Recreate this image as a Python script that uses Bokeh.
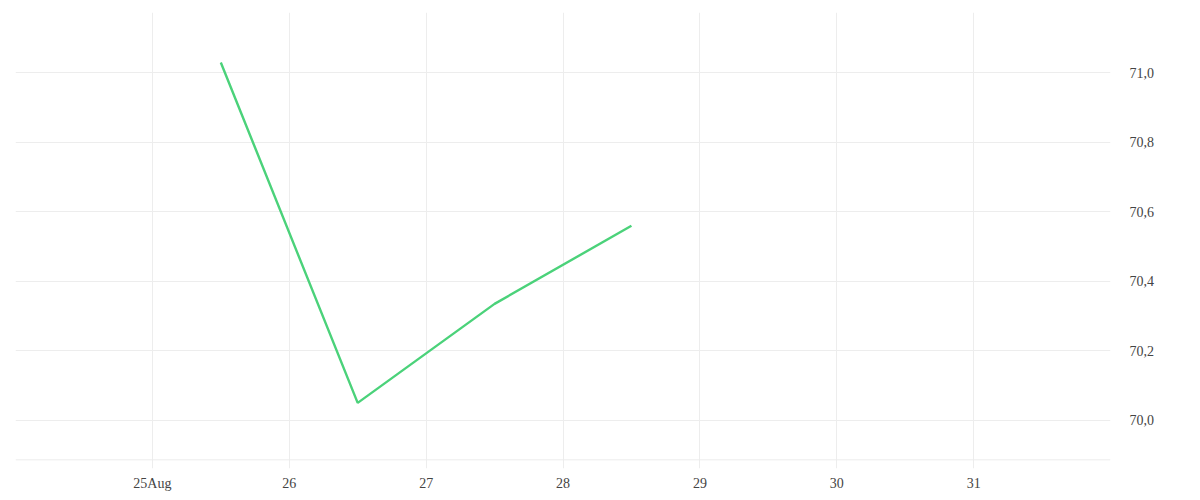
import pandas as pd
from bokeh.plotting import figure
from bokeh.models import Range1d, FixedTicker, Span
from bokeh.embed import file_html
from bokeh.resources import INLINE

# data (daily points at noon)
dates = ["2023-08-25 12:00", "2023-08-26 12:00", "2023-08-27 12:00", "2023-08-28 12:00"]
values = [71.03, 70.05, 70.335, 70.56]

x_ticks = ["2023-08-25", "2023-08-26", "2023-08-27", "2023-08-28",
           "2023-08-29", "2023-08-30", "2023-08-31"]
x_tick_labels = ["25Aug", "26", "27", "28", "29", "30", "31"]
y_ticks = [70.0, 70.2, 70.4, 70.6, 70.8, 71.0]
y_tick_labels = ["70,0", "70,2", "70,4", "70,6", "70,8", "71,0"]


def to_ms(s):
    return pd.Timestamp(s).value / 1e6


xs = [to_ms(d) for d in dates]
tick_ms = [to_ms(d) for d in x_ticks]
grid_ms = [to_ms("2023-08-24")] + tick_ms + [to_ms("2023-09-01")]

FONT = "Liberation Serif"
GRID = "#ededed"

p = figure(frame_width=1095, frame_height=456, output_backend="svg", toolbar_location=None,
           tools="", y_axis_location="right",
           x_range=Range1d(to_ms("2023-08-24"), to_ms("2023-09-01")),
           y_range=Range1d(69.861, 71.174),
           min_border_left=15, min_border_top=12, min_border_bottom=24, min_border_right=60)
p.outline_line_color = None
p.background_fill_color = "white"
p.border_fill_color = "white"

p.line(xs, values, line_color="#4bd27a", line_width=2.4)

# x axis
p.xaxis.ticker = FixedTicker(ticks=tick_ms)
p.xaxis.major_label_overrides = dict(zip(tick_ms, x_tick_labels))
p.xaxis.axis_line_color = None
p.xaxis.major_tick_line_color = None
p.xaxis.minor_tick_line_color = None
p.xaxis.major_label_standoff = 1
p.xgrid.ticker = FixedTicker(ticks=grid_ms)
p.xgrid.grid_line_color = GRID

# y axis on the right
p.yaxis.ticker = FixedTicker(ticks=y_ticks)
p.yaxis.major_label_overrides = dict(zip(y_ticks, y_tick_labels))
p.yaxis.axis_line_color = None
p.yaxis.major_tick_line_color = None
p.yaxis.minor_tick_line_color = None
p.yaxis.major_label_standoff = 13
p.ygrid.ticker = FixedTicker(ticks=y_ticks)
p.ygrid.grid_line_color = GRID

for ax in (p.xaxis, p.yaxis):
    ax.major_label_text_font = FONT
    ax.major_label_text_font_size = "14px"
    ax.major_label_text_color = "#444444"

# bottom baseline line
p.add_layout(Span(location=69.886, dimension="width", line_color=GRID, line_width=1))

open("out.html", "w").write(file_html(p, INLINE))
